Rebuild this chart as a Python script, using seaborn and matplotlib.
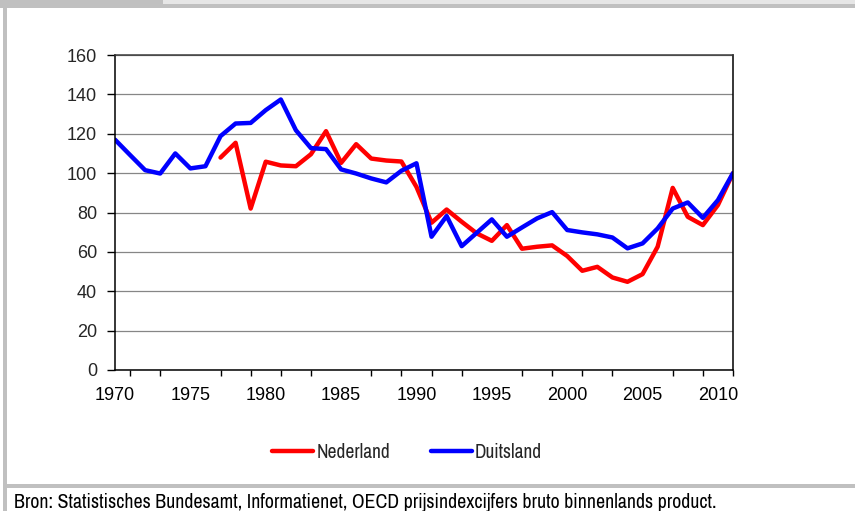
import matplotlib
matplotlib.use("Agg")
import matplotlib.pyplot as plt
import matplotlib.patches as mpatches
from matplotlib.lines import Line2D
from matplotlib.ticker import FixedLocator, NullFormatter
from matplotlib import font_manager
import seaborn as sns
import pandas as pd

years = list(range(1970, 2012))
nederland = [None, None, None, None, None, None, None,
             107.9, 115.4, 82.0, 105.8, 103.9, 103.5, 109.6, 121.3,
             105.2, 114.7, 107.4, 106.4, 105.9, 93.0, 74.8, 81.5, 75.3,
             69.4, 65.6, 73.6, 61.6, 62.6, 63.3, 57.9, 50.4, 52.4, 47.0,
             44.8, 48.7, 62.6, 92.5, 77.8, 73.6, 83.8, 100.0]
duitsland = [117.0, 109.2, 101.5, 99.8, 110.0, 102.4, 103.5, 118.8,
             125.2, 125.5, 132.0, 137.4, 121.8, 112.7, 112.2, 101.9,
             99.8, 97.3, 95.3, 101.2, 105.0, 67.7, 78.2, 62.9, 69.7,
             76.5, 67.7, 72.4, 77.0, 80.2, 71.1, 69.9, 68.9, 67.3, 61.8,
             64.3, 71.9, 82.0, 85.1, 77.3, 86.3, 100.0]
series_names = ["Nederland", "Duitsland"]
series_colors = ["#ff0000", "#0000ff"]
y_ticks = [0, 20, 40, 60, 80, 100, 120, 140, 160]
x_labels = [1970, 1975, 1980, 1985, 1990, 1995, 2000, 2005, 2010]
source_text = ("Bron: Statistisches Bundesamt, Informatienet, OECD "
               "prijsindexcijfers bruto binnenlands product.")

rows = []
for name, vals in zip(series_names, [nederland, duitsland]):
    for yr, v in zip(years, vals):
        if v is not None:
            rows.append({"jaar": yr, "index": v, "land": name})
df = pd.DataFrame(rows)

# find a narrow font if any is installed
narrow_file = None
for f in font_manager.fontManager.ttflist:
    nm = f.name.lower()
    if ("narrow" in nm or "condensed" in nm) and f.style == "normal" \
            and f.weight in (400, "normal", "regular"):
        narrow_file = f
        break
if narrow_file is not None:
    narrow_family = [narrow_file.name, "DejaVu Sans"]
    legend_size, footer_size = 14, 14.3
else:
    narrow_family = ["Liberation Sans", "DejaVu Sans"]
    legend_size, footer_size = 12, 11.8

sns.set_style("white")
plt.rcParams["font.family"] = ["Liberation Sans", "DejaVu Sans"]

W, H = 855, 511
fig = plt.figure(figsize=(W / 100, H / 100), dpi=100)
ax = fig.add_axes([115 / W, 1 - 370 / H, (733 - 115) / W, (370 - 55) / H])

sns.lineplot(data=df, x="jaar", y="index", hue="land",
             palette=dict(zip(series_names, series_colors)),
             linewidth=3.2, ax=ax, legend=False, sort=True)

ax.set_xlim(1970, 2011)
ax.set_ylim(0, 160)
ax.set_xlabel("")
ax.set_ylabel("")

ax.set_yticks(y_ticks)
ax.set_yticklabels([str(t) for t in y_ticks])
ax.yaxis.grid(True, color="#868686", linewidth=0.9)
ax.xaxis.grid(False)
ax.set_axisbelow(True)

ax.set_xticks(x_labels)
ax.set_xticklabels([str(t) for t in x_labels])
ax.xaxis.set_minor_locator(FixedLocator(list(range(1971, 2012, 2))))
ax.xaxis.set_minor_formatter(NullFormatter())
ax.tick_params(axis="x", which="major", length=0, pad=12,
               labelsize=13, colors="black")
ax.tick_params(axis="x", which="minor", length=4, width=1,
               direction="out", color="black", bottom=True)
ax.tick_params(axis="y", which="major", length=6, width=1,
               direction="out", pad=7, labelsize=13, color="black",
               left=True)

for s in ["left", "bottom", "right", "top"]:
    ax.spines[s].set_visible(True)
    ax.spines[s].set_color("black")
    ax.spines[s].set_linewidth(1.1)
ax.spines["top"].set_color("#3a3a3a")

# legend
handles = [Line2D([], [], color=c, lw=3.2) for c in series_colors]
fig.legend(handles, series_names, loc="center",
           bbox_to_anchor=(407 / W, 1 - 452 / H), ncol=2, frameon=False,
           prop={"family": narrow_family, "size": legend_size},
           handlelength=2.1, handletextpad=0.15, columnspacing=2.1,
           borderpad=0)

# frame decorations
def rect(x0, y0, x1, y1, color):
    fig.patches.append(mpatches.Rectangle(
        (x0 / W, 1 - y1 / H), (x1 - x0) / W, (y1 - y0) / H,
        transform=fig.transFigure, facecolor=color, edgecolor="none",
        zorder=0))

rect(0, 0, 163, 4, "#c0c0c0")
rect(163, 0, W, 4, "#e6e6e6")
rect(0, 4, W, 8, "#c0c0c0")
rect(3, 8, 7, H, "#c0c0c0")
rect(3, 484, W, 488, "#c0c0c0")

fig.text(14 / W, 1 - 508.5 / H, source_text, ha="left", va="baseline",
         fontsize=footer_size, family=narrow_family, color="black")

fig.savefig("out.png", dpi=100)
